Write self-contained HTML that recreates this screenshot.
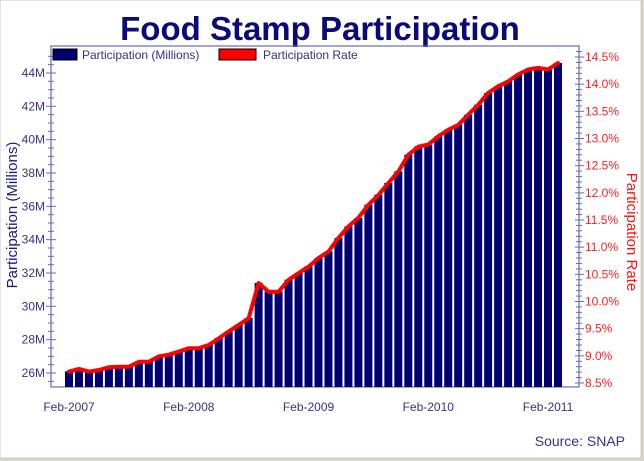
<!DOCTYPE html>
<html><head><meta charset="utf-8"><style>
html,body{margin:0;padding:0;background:#fff;}
svg{display:block;font-family:"Liberation Sans",Arial,sans-serif;}
</style></head><body>
<svg id="chart" width="644" height="461" viewBox="0 0 644 461">
<rect x="0" y="0" width="644" height="461" fill="#d8d4cc"/>
<rect x="0" y="0" width="641" height="458" fill="#ffffff" stroke="#c8c8c8"/>
<text x="320" y="40" text-anchor="middle" font-size="33" font-weight="bold" fill="#0a0a78">Food Stamp Participation</text>
<g id="plot"></g>
<text x="625" y="446" text-anchor="end" font-size="14" fill="#33338a">Source: SNAP</text>
</svg>
<script>
const months = ["Feb-2007","Mar-2007","Apr-2007","May-2007","Jun-2007","Jul-2007","Aug-2007","Sep-2007","Oct-2007","Nov-2007","Dec-2007","Jan-2008","Feb-2008","Mar-2008","Apr-2008","May-2008","Jun-2008","Jul-2008","Aug-2008","Sep-2008","Oct-2008","Nov-2008","Dec-2008","Jan-2009","Feb-2009","Mar-2009","Apr-2009","May-2009","Jun-2009","Jul-2009","Aug-2009","Sep-2009","Oct-2009","Nov-2009","Dec-2009","Jan-2010","Feb-2010","Mar-2010","Apr-2010","May-2010","Jun-2010","Jul-2010","Aug-2010","Sep-2010","Oct-2010","Nov-2010","Dec-2010","Jan-2011","Feb-2011","Mar-2011"];
const participation = [26.1,26.25,26.1,26.2,26.35,26.4,26.4,26.7,26.7,27.0,27.1,27.3,27.5,27.5,27.7,28.1,28.5,28.9,29.3,31.4,30.9,30.9,31.6,32.0,32.4,32.9,33.3,34.1,34.8,35.3,36.1,36.7,37.4,38.1,39.1,39.6,39.7,40.2,40.6,40.9,41.5,42.1,42.8,43.2,43.5,43.9,44.2,44.3,44.2,44.6];
const rate = [8.71,8.76,8.71,8.74,8.79,8.80,8.80,8.89,8.89,8.99,9.02,9.08,9.14,9.14,9.20,9.32,9.45,9.57,9.69,10.34,10.18,10.18,10.40,10.52,10.64,10.80,10.92,11.17,11.38,11.54,11.78,11.96,12.18,12.39,12.70,12.85,12.89,13.04,13.16,13.25,13.44,13.62,13.84,13.96,14.05,14.18,14.27,14.30,14.27,14.39];
const leftTicks = [26,28,30,32,34,36,38,40,42,44];
const rightTicks = [8.5,9.0,9.5,10.0,10.5,11.0,11.5,12.0,12.5,13.0,13.5,14.0,14.5];
const xTickLabels = ["Feb-2007","Feb-2008","Feb-2009","Feb-2010","Feb-2011"];

const NS="http://www.w3.org/2000/svg";
const g=document.getElementById('plot');
const PL=51,PR=579,PT=46,PB=387;
function yL(v){return 373-(v-26)*(300/18);}
function yR(v){return 383-(v-8.5)*(326/6);}
function xM(i){return 69+i*(489/49);}
function mk(tag,attrs,parent){const e=document.createElementNS(NS,tag);for(const k in attrs)e.setAttribute(k,attrs[k]);(parent||g).appendChild(e);return e;}

const frame=mk('rect',{x:PL,y:PT,width:PR-PL,height:PB-PT,fill:'none',stroke:'#6a6ab8','stroke-width':1.2});



// bars
participation.forEach((v,i)=>{
  const y=yL(v);
  const b=mk('rect',{x:xM(i)-4,y:y,width:8,height:PB-y,fill:'#000070'});
  
  
});

// line
const pts=rate.map((r,i)=>xM(i).toFixed(1)+','+yR(r).toFixed(1)).join(' ');
const ln=mk('polyline',{points:pts,fill:'none',stroke:'#ff0000','stroke-width':4,'stroke-linejoin':'round','stroke-linecap':'round'});



// left axis ticks
for(let v=25.5;v<=45;v+=0.5){
  const y=yL(v); if(y<PT||y>PB)continue;
  const major=Math.abs(v-Math.round(v))<1e-6 && Math.round(v)%2===0;
  mk('line',{x1:PL-(major?5:3),x2:PL+(major?5:3),y1:y,y2:y,stroke:'#6a6ab8','stroke-width':1});
}
leftTicks.forEach(v=>{
  const t=mk('text',{x:PL-6,y:yL(v)+4,'text-anchor':'end','font-size':12,fill:'#33338a'});
  t.textContent=v+'M';
  
  
});
// right axis ticks
for(let v=8.5;v<=14.61;v+=0.1){
  const y=yR(v); if(y<PT||y>PB)continue;
  const major=Math.abs(v*2-Math.round(v*2))<1e-6;
  mk('line',{x1:PR-(major?4:3),x2:PR+(major?5:3),y1:y,y2:y,stroke:'#6a6ab8','stroke-width':1});
}
rightTicks.forEach(v=>{
  const t=mk('text',{x:PR+6,y:yR(v)+4,'font-size':12,fill:'#ff2020'});
  t.textContent=v.toFixed(1)+'%';
  
  
});
// x labels
xTickLabels.forEach(lbl=>{
  const i=months.indexOf(lbl);
  const t=mk('text',{x:xM(i),y:411,'text-anchor':'middle','font-size':12,fill:'#33338a'});
  t.textContent=lbl;
  
  
});
// axis titles
const lt=mk('text',{x:0,y:0,'text-anchor':'middle','font-size':15,fill:'#1a1a80',transform:'translate(17,215) rotate(-90)'});
lt.textContent='Participation (Millions)';


const rt=mk('text',{x:0,y:0,'text-anchor':'middle','font-size':15,fill:'#ff1010',transform:'translate(627,232) rotate(90)'});
rt.textContent='Participation Rate';


// legend
const s1=mk('rect',{x:53,y:49,width:24,height:11,fill:'#000070',stroke:'#000'});


const l1=mk('text',{x:82,y:59,'font-size':12,fill:'#33338a'});
l1.textContent='Participation (Millions)';


const s2=mk('rect',{x:219,y:49,width:37,height:11,fill:'#ff0000',stroke:'#000'});


const l2=mk('text',{x:263,y:59,'font-size':12,fill:'#33338a'});
l2.textContent='Participation Rate';


</script>
</body></html>
